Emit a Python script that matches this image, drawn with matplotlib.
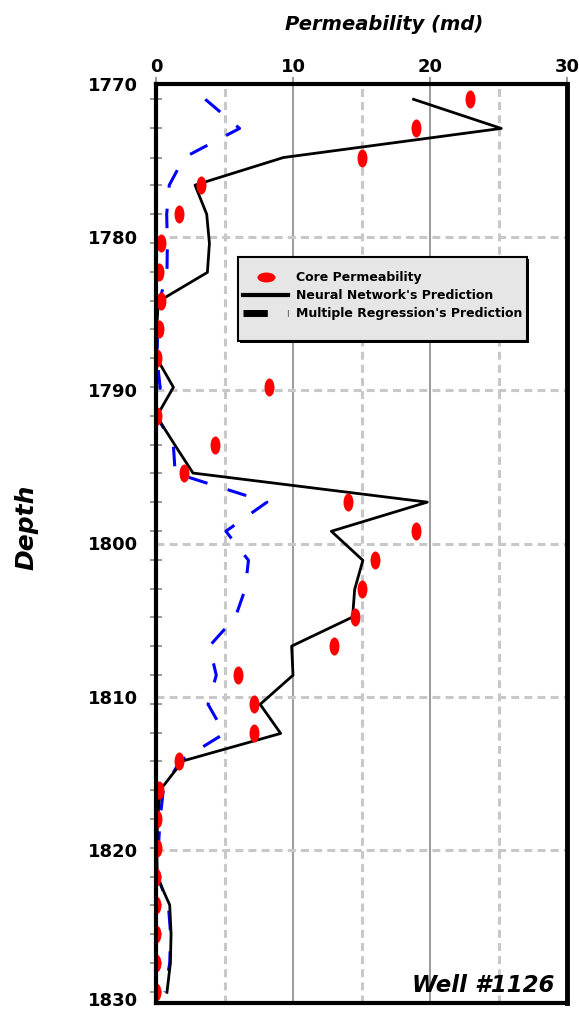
import numpy as np
import matplotlib
matplotlib.use("Agg")
import matplotlib.pyplot as plt
import matplotlib.transforms as mtransforms
from matplotlib.path import Path
from matplotlib.lines import Line2D
from matplotlib.patches import Rectangle

# ---------------- data ----------------
depth = [1771.0, 1772.9, 1774.8, 1776.6, 1778.5, 1780.4, 1782.3, 1784.2,
         1786.0, 1787.9, 1789.8, 1791.7, 1793.6, 1795.4, 1797.3, 1799.2,
         1801.1, 1803.0, 1804.8, 1806.7, 1808.6, 1810.5, 1812.4, 1814.2,
         1816.1, 1818.0, 1819.9, 1821.8, 1823.6, 1825.5, 1827.4, 1829.3]

core_perm = [22.9, 19.0, 15.0, 3.3, 1.7, 0.4, 0.2, 0.35,
             0.2, 0.05, 8.25, 0.05, 4.3, 2.05, 14.0, 19.0,
             16.0, 15.0, 14.5, 13.0, 5.95, 7.15, 7.15, 1.7,
             0.25, 0.05, 0.07, 0.03, 0.03, 0.03, 0.03, 0.03]

nn_pred = [18.8, 25.2, 9.3, 2.85, 3.7, 3.9, 3.75, 0.17,
           0.05, 0.05, 1.27, 0.05, 1.4, 2.7, 19.8, 12.8,
           15.1, 14.5, 14.35, 9.9, 10.0, 7.6, 9.1, 1.95,
           0.3, 0.12, 0.05, 0.1, 1.0, 1.1, 1.05, 0.8]

mr_pred = [3.6, 6.1, 2.05, 0.97, 0.78, 0.83, 0.8, 0.25,
           0.12, 0.07, 0.3, 0.07, 1.27, 1.4, 8.1, 5.1,
           6.75, 6.5, 5.8, 3.9, 4.4, 3.8, 5.0, 1.75,
           0.53, 0.3, 0.17, 0.15, 0.9, 1.07, 1.0, 0.65]

x_ticks = [0, 10, 20, 30]
x_minor_grid = [5, 15, 25]
y_ticks = [1770, 1780, 1790, 1800, 1810, 1820, 1830]
y_grid = [1780, 1790, 1800, 1810, 1820]

labels = ["Core Permeability", "Neural Network's Prediction",
          "Multiple Regression's Prediction"]

# ---------------- figure ----------------
plt.rcParams['font.family'] = ['DejaVu Sans']
W, H = 579, 1009
fig = plt.figure(figsize=(W / 100, H / 100), dpi=100)
L, R, T, B = 156, 567, 84, 1003
ax = fig.add_axes([L / W, 1 - B / H, (R - L) / W, (B - T) / H])

ax.set_xlim(0, 30)
ax.set_ylim(1830, 1770)

# grid
for g in x_minor_grid:
    ax.axvline(g, color='#c8c8c8', lw=2.2, ls=(0, (2.6, 1.7)), zorder=1)
for g in [10, 20]:
    ax.axvline(g, color='#8a8a8a', lw=1.2, zorder=1)
for g in y_grid:
    ax.axhline(g, color='#c8c8c8', lw=2.2, ls=(0, (2.6, 1.7)), zorder=1)

# ellipse marker
circ = Path.unit_circle()
ell_v = Path(circ.vertices * np.array([0.55, 1.0]), circ.codes)
ell_h = Path(circ.vertices * np.array([1.0, 0.55]), circ.codes)

ax.plot(mr_pred, depth, color='#0000ff', lw=2.2, ls=(0, (6.4, 6.9)),
        zorder=3, solid_joinstyle='miter')
ax.plot(nn_pred, depth, color='black', lw=2.0, zorder=4)
ax.plot(core_perm, depth, ls='none', marker=ell_v, markersize=13,
        color='#ff0000', markeredgewidth=0, zorder=5)

# axes styling
ax.xaxis.tick_top()
ax.set_xticks(x_ticks)
ax.set_xticklabels([str(v) for v in x_ticks], fontsize=13, fontweight='bold')
ax.tick_params(axis='x', direction='out', length=5, width=1.2,
               color='#8a8a8a', pad=0.5)

ax.set_yticks(y_ticks)
ax.set_yticklabels([str(v) for v in y_ticks], fontsize=13, fontweight='bold')
ax.tick_params(axis='y', which='major', length=0, pad=13)
ax.set_yticks(depth, minor=True)
ax.tick_params(axis='y', which='minor', direction='inout', length=8,
               width=1.2, color='#8a8a8a')
# nudge the last depth label up so it stays inside the figure
last = ax.get_yticklabels()[-1]
last.set_transform(last.get_transform() +
                   mtransforms.ScaledTranslation(0, 4 / 100, fig.dpi_scale_trans))

for side, lw in [('left', 3.0), ('top', 3.0), ('right', 3.5), ('bottom', 3.0)]:
    ax.spines[side].set_linewidth(lw)
    ax.spines[side].set_color('black')
    ax.spines[side].set_zorder(6)

# titles / labels
fig.text(384 / W, 1 - 25 / H, "Permeability (md)", ha='center', va='center',
         fontsize=14, fontweight='bold', fontstyle='italic')
fig.text(26 / W, 1 - 527 / H, "Depth", ha='center', va='center',
         rotation=90, fontsize=18, fontweight='bold', fontstyle='italic')
ax.text(0.97, 0.007, "Well #1126", transform=ax.transAxes, ha='right',
        va='bottom', fontsize=16.5, fontweight='bold', fontstyle='italic',
        zorder=7)

# legend box
lx0, ly0, lx1, ly1 = 238, 257, 527, 341
to_ax = lambda px, py: ((px - L) / (R - L), (B - py) / (B - T))
bx, by = to_ax(lx0, ly1)
bw = (lx1 - lx0) / (R - L)
bh = (ly1 - ly0) / (B - T)
shadow = Rectangle((bx + 2 / (R - L), by - 2 / (B - T)), bw, bh,
                   transform=ax.transAxes, facecolor='black',
                   edgecolor='none', zorder=7)
box = Rectangle((bx, by), bw, bh, transform=ax.transAxes,
                facecolor='#e6e6e6', edgecolor='black', lw=1.5, zorder=8)
ax.add_patch(shadow)
ax.add_patch(box)

handles = [
    Line2D([], [], ls='none', marker=ell_h, markersize=13, color='#ff0000',
           markeredgewidth=0),
    Line2D([], [], color='black', lw=3),
    Line2D([], [], color='black', lw=5, ls=(0, (3.5, 2.9))),
]
lx, ly = to_ax(lx0 + 5, ly0 + 14)
leg = ax.legend(handles, labels, loc='upper left', bbox_to_anchor=(lx, ly),
                frameon=False, prop={'size': 9, 'weight': 'bold'},
                handlelength=3.6, handletextpad=0.6, labelspacing=0.4,
                borderpad=0.0, borderaxespad=0.0)
leg.set_zorder(9)

fig.savefig("out.png", dpi=100)
